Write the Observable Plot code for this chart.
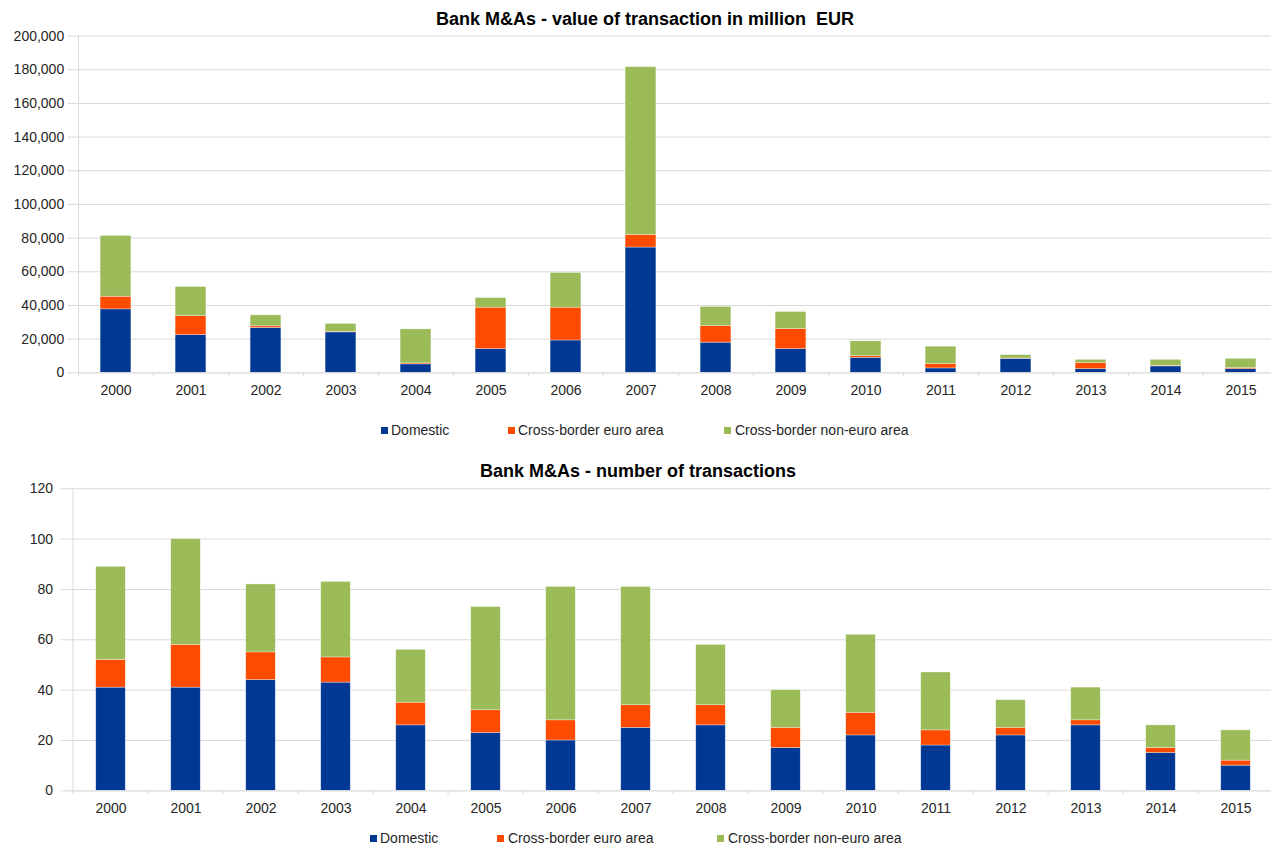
<!DOCTYPE html>
<html>
<head>
<meta charset="utf-8">
<script src="https://cdn.jsdelivr.net/npm/d3@7"></script>
<script src="https://cdn.jsdelivr.net/npm/@observablehq/plot@0.6"></script>
<style>
  body { margin: 0; background: #fff; font-family: "Liberation Sans", Arial, sans-serif; }
  #page { position: relative; width: 1271px; height: 847px; overflow: hidden; background: #fff; }
  .title { position: absolute; font-weight: bold; font-size: 18px; line-height: 22px; color: #000;
           white-space: pre; transform: translateX(-50%); }
  .chart { position: absolute; left: 0; }
  .legend-item { position: absolute; font-size: 14px; line-height: 18px; color: #262626; white-space: pre; }
  .swatch { position: absolute; width: 7px; height: 7px; }
</style>
</head>
<body>
<div id="page"></div>
<script>
// Years on the category axis
const years = ["2000","2001","2002","2003","2004","2005","2006","2007",
               "2008","2009","2010","2011","2012","2013","2014","2015"];

// Series names and colours
const seriesNames = ["Domestic", "Cross-border euro area", "Cross-border non-euro area"];
const seriesColors = ["#003894", "#ff4b00", "#9bbb59"];

// Value of transactions, million EUR
const valueDomestic = [37700, 22400, 26600, 24000, 5000, 14100, 19200, 74400, 17900, 14100, 8900, 2600, 8300, 2200, 3800, 2200];
const valueEuroArea = [7500, 11300, 1000, 400, 600, 24600, 19500, 7500, 9900, 11900, 1000, 2600, 200, 3600, 400, 600];
const valueNonEuroArea = [36100, 17300, 6500, 4600, 20200, 5700, 20600, 99600, 11300, 10100, 8800, 10300, 2000, 1900, 3500, 5500];

// Number of transactions
const countDomestic = [41, 41, 44, 43, 26, 23, 20, 25, 26, 17, 22, 18, 22, 26, 15, 10];
const countEuroArea = [11, 17, 11, 10, 9, 9, 8, 9, 8, 8, 9, 6, 3, 2, 2, 2];
const countNonEuroArea = [37, 42, 27, 30, 21, 41, 53, 47, 24, 15, 31, 23, 11, 13, 9, 12];

// Axis ticks
const valueTicks = [0, 20000, 40000, 60000, 80000, 100000, 120000, 140000, 160000, 180000, 200000];
const countTicks = [0, 20, 40, 60, 80, 100, 120];

const gridColor = "#d9d9d9";
const textColor = "#262626";

function toRows(d, e, n) {
  const rows = [];
  years.forEach((y, i) => {
    rows.push({year: y, series: seriesNames[0], value: d[i]});
    rows.push({year: y, series: seriesNames[1], value: e[i]});
    rows.push({year: y, series: seriesNames[2], value: n[i]});
  });
  return rows;
}

function stackedChart({rows, ticks, height, marginTop, marginBottom, xRange, barWidth, tickSize, tickPadding, format}) {
  const step = (xRange[1] - xRange[0]) / years.length;
  const inset = (step - barWidth) / 2;
  return Plot.plot({
    width: 1271,
    height,
    marginTop,
    marginBottom,
    marginLeft: xRange[0],
    marginRight: 0,
    style: {fontFamily: '"Liberation Sans", Arial, sans-serif', fontSize: "14px", color: textColor, background: "transparent"},
    x: {domain: years, range: xRange, padding: 0, label: null},
    y: {domain: [ticks[0], ticks[ticks.length - 1]], label: null},
    color: {domain: seriesNames, range: seriesColors},
    marks: [
      // horizontal gridlines
      Plot.ruleY(ticks.slice(1), {stroke: gridColor, strokeWidth: 1}),
      // stacked bars
      Plot.barY(rows, {x: "year", y: "value", fill: "series", insetLeft: inset, insetRight: inset,
                       stroke: "#ffffff", strokeOpacity: 0.55, strokeWidth: 0.6}),
      // value axis with outward ticks
      Plot.axisY({ticks, tickSize, tickPadding, tickFormat: format, stroke: gridColor, fill: textColor, label: null}),
      // left axis line
      Plot.ruleX([years[0]], {dx: -step / 2, stroke: gridColor}),
      // baseline
      Plot.ruleY([0], {stroke: gridColor, strokeWidth: 1.2}),
      // category separators below the baseline
      Plot.ruleX(years, {x: d => d, dx: -step / 2, y1: 0, y2: 0, insetBottom: -4, stroke: gridColor}),
      // year labels
      Plot.axisX({tickSize: 0, tickPadding: 12, fill: textColor, label: null})
    ]
  });
}

const page = document.getElementById("page");

function addTitle(text, cx, cy) {
  const t = document.createElement("div");
  t.className = "title";
  t.textContent = text;
  t.style.left = cx + "px";
  t.style.top = (cy - 11) + "px";
  page.appendChild(t);
}

function addLegend(items, cy) {
  items.forEach(([sx, tx], i) => {
    const sw = document.createElement("div");
    sw.className = "swatch";
    sw.style.background = seriesColors[i];
    sw.style.left = sx + "px";
    sw.style.top = (cy - 3.5) + "px";
    page.appendChild(sw);
    const lab = document.createElement("div");
    lab.className = "legend-item";
    lab.textContent = seriesNames[i];
    lab.style.left = tx + "px";
    lab.style.top = (cy - 9) + "px";
    page.appendChild(lab);
  });
}

function addChart(svg, top) {
  svg.classList.add("chart");
  svg.style.top = top + "px";
  page.appendChild(svg);
}

// Value of transactions
addTitle("Bank M&As - value of transaction in million  EUR", 645, 19);
addChart(stackedChart({
  rows: toRows(valueDomestic, valueEuroArea, valueNonEuroArea),
  ticks: valueTicks,
  height: 384, marginTop: 9.6, marginBottom: 37.7,
  xRange: [77.7, 1277.7], barWidth: 30.8,
  tickSize: 10, tickPadding: 4,
  format: d3.format(",")
}), 26);
addLegend([[381, 391], [508, 518], [724, 735]], 430);

// Number of transactions
addTitle("Bank M&As - number of transactions", 638, 471);
addChart(stackedChart({
  rows: toRows(countDomestic, countEuroArea, countNonEuroArea),
  ticks: countTicks,
  height: 340, marginTop: 8.3, marginBottom: 29.7,
  xRange: [65.5, 1279.9], barWidth: 30.4,
  tickSize: 5, tickPadding: 8,
  format: d3.format("d")
}), 480);
addLegend([[369.5, 380], [497, 508], [717, 728]], 838);
</script>
</body>
</html>
